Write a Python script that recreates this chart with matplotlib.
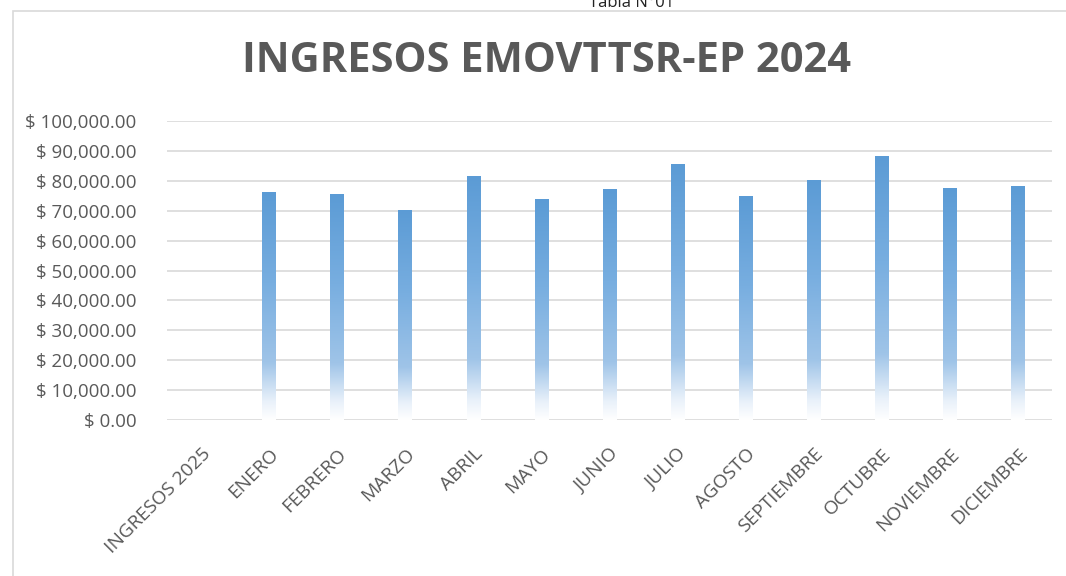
import numpy as np
import matplotlib.pyplot as plt
import matplotlib as mpl
from matplotlib.colors import LinearSegmentedColormap
from matplotlib.patches import Rectangle
from matplotlib.ticker import FuncFormatter, MultipleLocator

meses = ["INGRESOS 2025", "ENERO", "FEBRERO", "MARZO", "ABRIL", "MAYO", "JUNIO",
         "JULIO", "AGOSTO", "SEPTIEMBRE", "OCTUBRE", "NOVIEMBRE", "DICIEMBRE"]
ingresos = [0, 76300, 75600, 70300, 81700, 74000, 77100,
            85600, 74800, 80300, 88300, 77700, 78300]

gris = "#595959"
azul = "#5B9BD5"

mpl.rcParams.update({
    "font.family": ["Open Sans", "DejaVu Sans"],
    "axes.unicode_minus": False,
})

fig = plt.figure(figsize=(10.66, 5.76), dpi=100)

# marco del gráfico
fig.patches.append(Rectangle((13 / 1066, -0.1), 1.2, 1.1 - 12 / 576 + 0.001,
                             transform=fig.transFigure, facecolor="white",
                             edgecolor="#d9d9d9", lw=1.2, zorder=-1))
fig.text(0.592, 1.008, "Tabla N°01", ha="center", va="top", fontsize=12, color="#222222")

ax = fig.add_axes([167 / 1066, 156 / 576, 885 / 1066, 299 / 576])
ax.set_facecolor("none")

x = np.arange(len(meses))
ancho = 0.2
grad = LinearSegmentedColormap.from_list(
    "g", [(0, "#ffffff"), (0.08, "#e9f1fa"), (0.25, "#9fc4e8"), (0.6, "#78aee0"), (1, azul)])
img = np.linspace(0, 1, 256).reshape(-1, 1)

barras = ax.bar(x, ingresos, width=ancho, color="none", edgecolor="none", zorder=2)
for b in barras:
    h = b.get_height()
    if h <= 0:
        continue
    x0 = b.get_x()
    im = ax.imshow(img, cmap=grad, origin="lower", aspect="auto",
                   extent=(x0, x0 + ancho, 0, h), zorder=2)
    im.set_clip_path(b)

ax.set_xlim(-0.5, len(meses) - 0.5)
ax.set_ylim(0, 100000)
ax.yaxis.set_major_locator(MultipleLocator(10000))
ax.yaxis.set_major_formatter(FuncFormatter(lambda v, p: f"$ {v:,.2f}"))
ax.grid(axis="y", color="#d9d9d9", lw=1.2, zorder=0)
ax.set_axisbelow(True)
for s in ax.spines.values():
    s.set_visible(False)
ax.tick_params(length=0, colors=gris, labelsize=13.5)
ax.tick_params(axis="y", pad=22)
ax.set_xticks(x)
ax.set_xticklabels(meses, rotation=45, ha="right", rotation_mode="anchor", fontsize=13.8)
ax.tick_params(axis="x", pad=18)

fig.text(0.513, 0.893, "INGRESOS EMOVTTSR-EP 2024", ha="center", va="center",
         fontsize=30, fontweight="bold", color=gris)

fig.savefig("out.png", dpi=100)
